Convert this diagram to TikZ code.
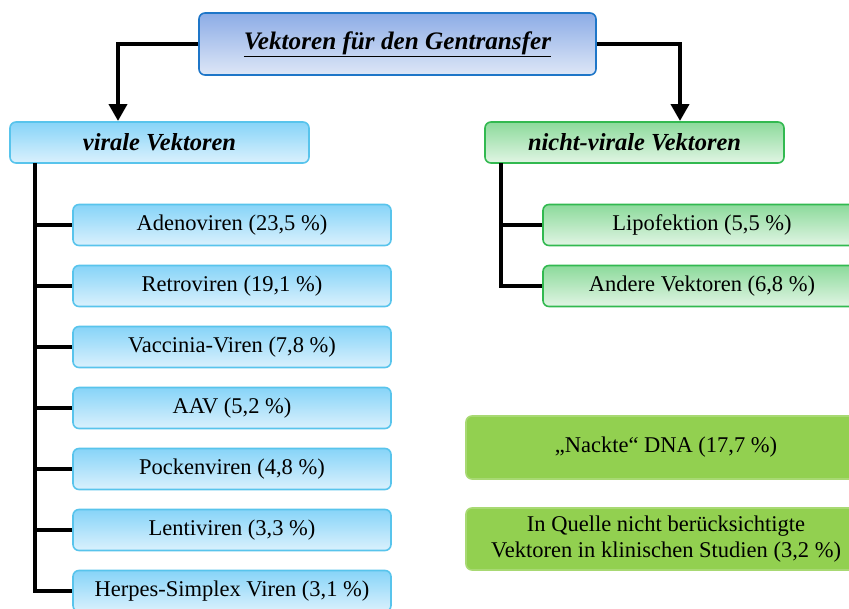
\documentclass[tikz,border=0pt]{standalone}
\usepackage{fontspec}
\setmainfont{Liberation Serif}
\usetikzlibrary{arrows.meta,calc}
\definecolor{tbord}{RGB}{30,118,200}
\definecolor{ttop}{RGB}{140,172,230}
\definecolor{tbot}{RGB}{222,231,247}
\definecolor{vbord}{RGB}{88,196,236}
\definecolor{vtop}{RGB}{135,212,248}
\definecolor{vbot}{RGB}{218,241,253}
\definecolor{gbord}{RGB}{50,185,80}
\definecolor{gtop}{RGB}{140,218,155}
\definecolor{gbot}{RGB}{225,245,228}
\definecolor{solidg}{RGB}{146,208,80}
\begin{document}
\begin{tikzpicture}[x=1pt,y=-1pt,
  basebox/.style={rounded corners=6pt,line width=1.6pt,inner sep=0pt,align=center},
  titlebox/.style={basebox,draw=tbord,top color=ttop,bottom color=tbot,minimum width=397pt,minimum height=62pt,
     font=\fontsize{25.2}{28}\selectfont\bfseries\itshape},
  vhead/.style={basebox,draw=vbord,top color=vtop,bottom color=vbot,minimum width=299pt,minimum height=41pt,
     font=\fontsize{24.5}{28}\selectfont\bfseries\itshape},
  ghead/.style={basebox,draw=gbord,top color=gtop,bottom color=gbot,minimum width=299pt,minimum height=41pt,
     font=\fontsize{24.5}{28}\selectfont\bfseries\itshape},
  vitem/.style={basebox,draw=vbord,top color=vtop,bottom color=vbot,minimum width=318pt,minimum height=41pt,
     font=\fontsize{22.5}{26}\selectfont},
  gitem/.style={basebox,draw=gbord,top color=gtop,bottom color=gbot,minimum width=318pt,minimum height=41pt,
     font=\fontsize{22.5}{26}\selectfont},
  solidbox/.style={basebox,draw=solidg!80!white,fill=solidg,minimum width=400pt,
     font=\fontsize{22.5}{27}\selectfont},
  conn/.style={line width=4pt,black},
  arr/.style={conn,-{Triangle[width=18pt,length=17pt]}}]
\useasboundingbox (0,0) rectangle (849,608);
\clip (0,0) rectangle (849,608);

\node[titlebox] (title) at (397.5,44) {\underline{Vektoren für den Gentransfer}};
\node[vhead] (vir) at (159.5,142.5) {virale Vektoren};
\node[ghead] (nvir) at (634.5,142.5) {nicht-virale Vektoren};

\node[vitem] (c1) at (232,225) {Adenoviren (23,5 \%)};
\node[vitem] (c2) at (232,286) {Retroviren (19,1 \%)};
\node[vitem] (c3) at (232,347) {Vaccinia-Viren (7,8 \%)};
\node[vitem] (c4) at (232,408) {AAV (5,2 \%)};
\node[vitem] (c5) at (232,469) {Pockenviren (4,8 \%)};
\node[vitem] (c6) at (232,530) {Lentiviren (3,3 \%)};
\node[vitem] (c7) at (232,591) {Herpes-Simplex Viren (3,1 \%)};

\node[gitem] (g1) at (702,225) {Lipofektion (5,5 \%)};
\node[gitem] (g2) at (702,286) {Andere Vektoren (6,8 \%)};

\node[solidbox,minimum height=63pt] (nack) at (666,447.5) {„Nackte“ DNA (17,7 \%)};
\node[solidbox,minimum height=62pt] (quel) at (666,539) {In Quelle nicht berücksichtigte\\[-1pt]Vektoren in klinischen Studien (3,2 \%)};

\coordinate (va) at (118,121);
\coordinate (na) at (680,121);
\draw[arr] (title.west) -| (va);
\draw[arr] (title.east) -| (na);

\coordinate (vt) at (35,163);
\draw[conn] (vt) |- (c7.west);
\foreach \n in {c1,c2,c3,c4,c5,c6}{\draw[conn] (\n.west) -- (\n.west -| vt);}

\coordinate (nt) at (501,163);
\draw[conn] (nt) |- (g2.west);
\draw[conn] (g1.west) -- (g1.west -| nt);
\end{tikzpicture}
\end{document}
